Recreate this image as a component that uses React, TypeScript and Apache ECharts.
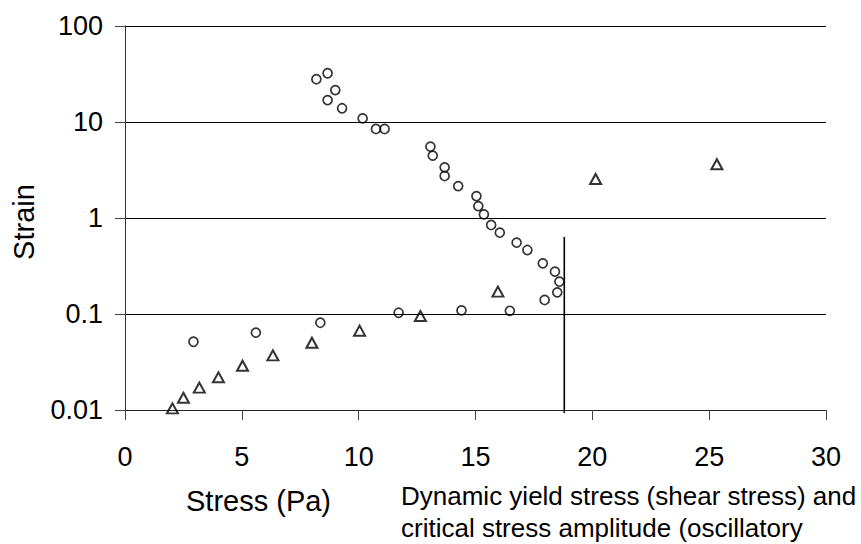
import React, { useEffect, useRef } from "react";
import * as echarts from "echarts";

// Circles (open circles)
const circleStress = [8.19, 8.67, 9.0, 8.67, 9.29, 10.17, 10.74, 11.11, 13.07, 13.17, 13.68, 13.68, 14.26, 15.04, 15.12, 15.36, 15.67, 16.04, 16.76, 17.22, 17.88, 18.4, 18.59, 18.5, 17.96, 16.47, 14.4, 11.71, 8.36, 5.6, 2.93];
const circleStrain = [27.9, 32.2, 21.5, 16.9, 13.9, 10.9, 8.46, 8.46, 5.53, 4.46, 3.37, 2.74, 2.15, 1.69, 1.33, 1.09, 0.846, 0.703, 0.553, 0.464, 0.337, 0.276, 0.217, 0.168, 0.14, 0.108, 0.109, 0.103, 0.0811, 0.0639, 0.0514];

// Triangles (open triangles)
const triStress = [2.03, 2.5, 3.18, 4.0, 5.03, 6.33, 8.0, 10.04, 12.64, 15.96, 20.14, 25.33];
const triStrain = [0.0104, 0.0134, 0.0171, 0.0219, 0.0289, 0.0371, 0.0502, 0.067, 0.0953, 0.171, 2.55, 3.63];

// Vertical marker line
const lineStress = [18.8, 18.8];
const lineStrain = [0.0093, 0.635];

const xTicks = ["0", "5", "10", "15", "20", "25", "30"];
const yTicks = ["0.01", "0.1", "1", "10", "100"];

const xTitle = "Stress (Pa)";
const yTitle = "Strain";
const noteLines = ["Dynamic yield stress (shear stress) and", "critical stress amplitude (oscillatory"];

const FONT = "'Liberation Sans', Arial, Helvetica, sans-serif";

export default function App() {
  const ref = useRef<HTMLDivElement>(null);
  useEffect(() => {
    if (!ref.current) return;
    const chart = echarts.init(ref.current, undefined, { renderer: "svg" });
    const zip = (xs: number[], ys: number[]) => xs.map((x, i) => [x, ys[i]]);
    chart.setOption({
      animation: false,
      backgroundColor: "#fff",
      textStyle: { fontFamily: FONT },
      grid: { left: 125, right: 35, top: 26, bottom: 134, containLabel: false },
      xAxis: {
        type: "value",
        min: 0,
        max: 30,
        interval: 5,
        axisLine: { show: true, onZero: false, lineStyle: { color: "#222", width: 1 } },
        axisTick: { show: true, inside: false, length: 10, lineStyle: { color: "#444", width: 1 } },
        axisLabel: {
          margin: 33,
          fontSize: 27,
          color: "#000",
          fontFamily: FONT,
          formatter: (v: number) => xTicks[Math.round(v / 5)] ?? "",
        },
        splitLine: { show: false },
      },
      yAxis: {
        type: "log",
        logBase: 10,
        min: 0.01,
        max: 100,
        axisLine: { show: true, lineStyle: { color: "#333", width: 1 } },
        axisTick: { show: true, inside: false, length: 10, lineStyle: { color: "#444", width: 1 } },
        minorTick: { show: false },
        axisLabel: {
          margin: 22,
          fontSize: 27,
          color: "#000",
          fontFamily: FONT,
          formatter: (v: number) => {
            const idx = Math.round(Math.log10(v)) + 2;
            return yTicks[idx] ?? "";
          },
        },
        splitLine: { show: true, lineStyle: { color: "#000", width: 1 } },
      },
      series: [
        {
          type: "scatter",
          data: zip(circleStress, circleStrain),
          symbol: "circle",
          symbolSize: 9,
          itemStyle: { color: "rgba(0,0,0,0)", borderColor: "#000", borderWidth: 1.7 },
          emphasis: { disabled: true },
          z: 3,
        },
        {
          type: "scatter",
          data: zip(triStress, triStrain),
          symbol: "triangle",
          symbolSize: [11, 10],
          itemStyle: { color: "rgba(0,0,0,0)", borderColor: "#000", borderWidth: 2 },
          emphasis: { disabled: true },
          z: 3,
        },
        {
          type: "line",
          data: zip(lineStress, lineStrain),
          symbol: "none",
          clip: false,
          lineStyle: { color: "#000", width: 1.6 },
          emphasis: { disabled: true },
          z: 2,
        },
      ],
      graphic: [
        {
          type: "text",
          x: 23.5,
          y: 222,
          rotation: Math.PI / 2,
          style: { text: yTitle, fontSize: 29, fontFamily: FONT, fill: "#000", align: "center", verticalAlign: "middle" },
        },
        {
          type: "text",
          x: 258.5,
          y: 500.5,
          style: { text: xTitle, fontSize: 29, fontFamily: FONT, fill: "#000", align: "center", verticalAlign: "middle" },
        },
        {
          type: "text",
          x: 401,
          y: 496,
          style: { text: noteLines[0], fontSize: 26, fontFamily: FONT, fill: "#000", align: "left", verticalAlign: "middle" },
        },
        {
          type: "text",
          x: 401,
          y: 528,
          style: { text: noteLines[1], fontSize: 26, fontFamily: FONT, fill: "#000", align: "left", verticalAlign: "middle" },
        },
      ],
    });
    return () => chart.dispose();
  }, []);
  return <div ref={ref} style={{ position: "fixed", left: 0, top: 0, width: 861, height: 544 }} />;
}
